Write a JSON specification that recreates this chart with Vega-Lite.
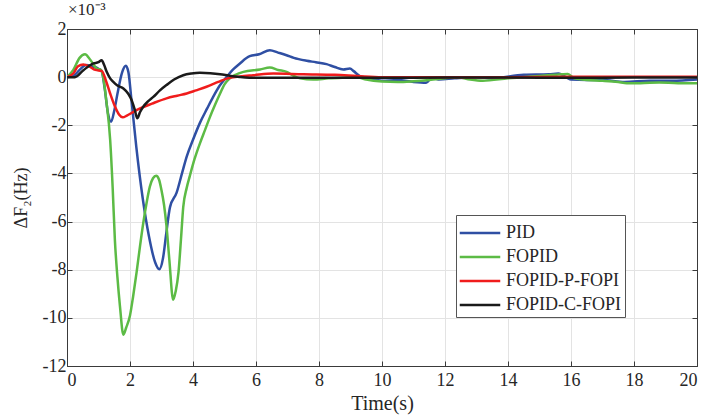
{
  "$schema": "https://vega.github.io/schema/vega-lite/v6.json",
  "width": 630,
  "height": 337,
  "autosize": {"type": "none"},
  "padding": {"left": 67, "top": 29, "right": 10, "bottom": 54},
  "background": "white",
  "title": {"text": "×10⁻³", "anchor": "start", "frame": "group", "offset": 1, "dx": 1, "font": "Liberation Serif, Times New Roman, serif", "fontSize": 17, "fontWeight": "normal", "color": "#262626"},
  "config": {
    "font": "Liberation Serif, Times New Roman, serif",
    "view": {"stroke": "#3a3a3a", "strokeWidth": 1},
    "axis": {"labelFont": "Liberation Serif, Times New Roman, serif", "titleFont": "Liberation Serif, Times New Roman, serif", "labelColor": "#262626", "titleColor": "#262626", "labelFontSize": 18, "titleFontSize": 18, "titleFontWeight": "normal", "domainColor": "#3a3a3a", "tickColor": "#3a3a3a", "gridColor": "#e3e3e3", "tickSize": -5, "labelPadding": 6},
    "legend": {"labelFont": "Liberation Serif, Times New Roman, serif"}
  },
  "datasets": {
    "d": [
      {"t":0,"v":0,"s":"PID"},{"t":0.2,"v":0.05,"s":"PID"},{"t":0.4,"v":0.3,"s":"PID"},{"t":0.6,"v":0.5,"s":"PID"},{"t":0.8,"v":0.45,"s":"PID"},{"t":1.0,"v":0.35,"s":"PID"},{"t":1.1,"v":0.25,"s":"PID"},{"t":1.2,"v":-0.5,"s":"PID"},{"t":1.3,"v":-1.5,"s":"PID"},{"t":1.4,"v":-1.85,"s":"PID"},{"t":1.5,"v":-1.4,"s":"PID"},{"t":1.6,"v":-0.7,"s":"PID"},{"t":1.75,"v":0.2,"s":"PID"},{"t":1.87,"v":0.47,"s":"PID"},{"t":1.95,"v":0.2,"s":"PID"},{"t":2.05,"v":-1.0,"s":"PID"},{"t":2.2,"v":-2.9,"s":"PID"},{"t":2.4,"v":-5.0,"s":"PID"},{"t":2.6,"v":-6.6,"s":"PID"},{"t":2.8,"v":-7.7,"s":"PID"},{"t":2.93,"v":-7.98,"s":"PID"},{"t":3.05,"v":-7.5,"s":"PID"},{"t":3.15,"v":-6.5,"s":"PID"},{"t":3.27,"v":-5.4,"s":"PID"},{"t":3.48,"v":-4.8,"s":"PID"},{"t":3.65,"v":-4.0,"s":"PID"},{"t":3.8,"v":-3.3,"s":"PID"},{"t":4.0,"v":-2.6,"s":"PID"},{"t":4.22,"v":-1.9,"s":"PID"},{"t":4.45,"v":-1.3,"s":"PID"},{"t":4.64,"v":-0.82,"s":"PID"},{"t":4.85,"v":-0.35,"s":"PID"},{"t":5.07,"v":0.01,"s":"PID"},{"t":5.3,"v":0.35,"s":"PID"},{"t":5.49,"v":0.57,"s":"PID"},{"t":5.8,"v":0.87,"s":"PID"},{"t":6.1,"v":0.95,"s":"PID"},{"t":6.44,"v":1.12,"s":"PID"},{"t":6.7,"v":1.02,"s":"PID"},{"t":6.97,"v":0.91,"s":"PID"},{"t":7.2,"v":0.8,"s":"PID"},{"t":7.61,"v":0.68,"s":"PID"},{"t":7.9,"v":0.62,"s":"PID"},{"t":8.24,"v":0.54,"s":"PID"},{"t":8.5,"v":0.42,"s":"PID"},{"t":8.77,"v":0.32,"s":"PID"},{"t":8.98,"v":0.36,"s":"PID"},{"t":9.1,"v":0.25,"s":"PID"},{"t":9.3,"v":0.04,"s":"PID"},{"t":9.6,"v":-0.05,"s":"PID"},{"t":10.0,"v":-0.15,"s":"PID"},{"t":10.5,"v":-0.12,"s":"PID"},{"t":11.0,"v":-0.2,"s":"PID"},{"t":11.4,"v":-0.23,"s":"PID"},{"t":11.6,"v":0.0,"s":"PID"},{"t":11.8,"v":-0.1,"s":"PID"},{"t":12.3,"v":-0.05,"s":"PID"},{"t":13.0,"v":0.0,"s":"PID"},{"t":13.5,"v":-0.05,"s":"PID"},{"t":14.5,"v":0.1,"s":"PID"},{"t":15.3,"v":0.12,"s":"PID"},{"t":15.6,"v":0.15,"s":"PID"},{"t":16.0,"v":-0.1,"s":"PID"},{"t":16.5,"v":-0.12,"s":"PID"},{"t":17.0,"v":-0.12,"s":"PID"},{"t":17.7,"v":-0.2,"s":"PID"},{"t":18.5,"v":-0.15,"s":"PID"},{"t":19.2,"v":-0.15,"s":"PID"},{"t":20.0,"v":-0.1,"s":"PID"},

      {"t":0,"v":0,"s":"FOPID"},{"t":0.2,"v":0.3,"s":"FOPID"},{"t":0.4,"v":0.8,"s":"FOPID"},{"t":0.57,"v":0.95,"s":"FOPID"},{"t":0.75,"v":0.7,"s":"FOPID"},{"t":0.94,"v":0.36,"s":"FOPID"},{"t":1.08,"v":0.3,"s":"FOPID"},{"t":1.15,"v":0.0,"s":"FOPID"},{"t":1.25,"v":-1.0,"s":"FOPID"},{"t":1.37,"v":-2.6,"s":"FOPID"},{"t":1.45,"v":-4.6,"s":"FOPID"},{"t":1.52,"v":-6.76,"s":"FOPID"},{"t":1.6,"v":-8.3,"s":"FOPID"},{"t":1.68,"v":-9.5,"s":"FOPID"},{"t":1.79,"v":-10.7,"s":"FOPID"},{"t":1.88,"v":-10.4,"s":"FOPID"},{"t":2.0,"v":-9.9,"s":"FOPID"},{"t":2.1,"v":-9.1,"s":"FOPID"},{"t":2.21,"v":-8.1,"s":"FOPID"},{"t":2.32,"v":-7.0,"s":"FOPID"},{"t":2.42,"v":-6.07,"s":"FOPID"},{"t":2.53,"v":-5.2,"s":"FOPID"},{"t":2.63,"v":-4.55,"s":"FOPID"},{"t":2.73,"v":-4.2,"s":"FOPID"},{"t":2.83,"v":-4.1,"s":"FOPID"},{"t":2.92,"v":-4.25,"s":"FOPID"},{"t":3.0,"v":-4.7,"s":"FOPID"},{"t":3.08,"v":-5.3,"s":"FOPID"},{"t":3.16,"v":-6.2,"s":"FOPID"},{"t":3.25,"v":-7.6,"s":"FOPID"},{"t":3.37,"v":-9.25,"s":"FOPID"},{"t":3.45,"v":-8.9,"s":"FOPID"},{"t":3.54,"v":-8.1,"s":"FOPID"},{"t":3.62,"v":-6.7,"s":"FOPID"},{"t":3.69,"v":-5.4,"s":"FOPID"},{"t":3.8,"v":-4.6,"s":"FOPID"},{"t":3.9,"v":-4.1,"s":"FOPID"},{"t":4.05,"v":-3.4,"s":"FOPID"},{"t":4.22,"v":-2.75,"s":"FOPID"},{"t":4.38,"v":-2.2,"s":"FOPID"},{"t":4.54,"v":-1.65,"s":"FOPID"},{"t":4.7,"v":-1.15,"s":"FOPID"},{"t":4.86,"v":-0.68,"s":"FOPID"},{"t":5.0,"v":-0.3,"s":"FOPID"},{"t":5.17,"v":-0.05,"s":"FOPID"},{"t":5.35,"v":0.1,"s":"FOPID"},{"t":5.6,"v":0.22,"s":"FOPID"},{"t":6.13,"v":0.32,"s":"FOPID"},{"t":6.44,"v":0.4,"s":"FOPID"},{"t":6.7,"v":0.3,"s":"FOPID"},{"t":6.97,"v":0.22,"s":"FOPID"},{"t":7.2,"v":0.05,"s":"FOPID"},{"t":7.4,"v":-0.05,"s":"FOPID"},{"t":7.82,"v":-0.1,"s":"FOPID"},{"t":8.3,"v":-0.05,"s":"FOPID"},{"t":8.77,"v":-0.02,"s":"FOPID"},{"t":9.2,"v":0.0,"s":"FOPID"},{"t":9.5,"v":-0.1,"s":"FOPID"},{"t":10.0,"v":-0.18,"s":"FOPID"},{"t":10.5,"v":-0.2,"s":"FOPID"},{"t":11.0,"v":-0.17,"s":"FOPID"},{"t":11.5,"v":-0.12,"s":"FOPID"},{"t":12.0,"v":-0.05,"s":"FOPID"},{"t":12.4,"v":0.0,"s":"FOPID"},{"t":12.8,"v":-0.1,"s":"FOPID"},{"t":13.2,"v":-0.15,"s":"FOPID"},{"t":14.0,"v":-0.05,"s":"FOPID"},{"t":15.0,"v":0.05,"s":"FOPID"},{"t":15.5,"v":0.1,"s":"FOPID"},{"t":15.9,"v":0.13,"s":"FOPID"},{"t":16.1,"v":-0.05,"s":"FOPID"},{"t":16.5,"v":-0.12,"s":"FOPID"},{"t":17.0,"v":-0.15,"s":"FOPID"},{"t":17.5,"v":-0.2,"s":"FOPID"},{"t":17.77,"v":-0.25,"s":"FOPID"},{"t":18.2,"v":-0.25,"s":"FOPID"},{"t":18.8,"v":-0.22,"s":"FOPID"},{"t":19.4,"v":-0.25,"s":"FOPID"},{"t":20.0,"v":-0.25,"s":"FOPID"},

      {"t":0,"v":0,"s":"FOPID-P-FOPI"},{"t":0.2,"v":0.15,"s":"FOPID-P-FOPI"},{"t":0.35,"v":0.45,"s":"FOPID-P-FOPI"},{"t":0.52,"v":0.53,"s":"FOPID-P-FOPI"},{"t":0.7,"v":0.45,"s":"FOPID-P-FOPI"},{"t":0.9,"v":0.3,"s":"FOPID-P-FOPI"},{"t":1.1,"v":0.26,"s":"FOPID-P-FOPI"},{"t":1.25,"v":-0.2,"s":"FOPID-P-FOPI"},{"t":1.37,"v":-0.68,"s":"FOPID-P-FOPI"},{"t":1.5,"v":-1.15,"s":"FOPID-P-FOPI"},{"t":1.65,"v":-1.55,"s":"FOPID-P-FOPI"},{"t":1.77,"v":-1.67,"s":"FOPID-P-FOPI"},{"t":1.9,"v":-1.6,"s":"FOPID-P-FOPI"},{"t":2.1,"v":-1.45,"s":"FOPID-P-FOPI"},{"t":2.32,"v":-1.3,"s":"FOPID-P-FOPI"},{"t":2.7,"v":-1.1,"s":"FOPID-P-FOPI"},{"t":3.16,"v":-0.88,"s":"FOPID-P-FOPI"},{"t":3.5,"v":-0.77,"s":"FOPID-P-FOPI"},{"t":3.8,"v":-0.68,"s":"FOPID-P-FOPI"},{"t":4.1,"v":-0.55,"s":"FOPID-P-FOPI"},{"t":4.43,"v":-0.4,"s":"FOPID-P-FOPI"},{"t":4.8,"v":-0.2,"s":"FOPID-P-FOPI"},{"t":5.07,"v":-0.06,"s":"FOPID-P-FOPI"},{"t":5.5,"v":0.03,"s":"FOPID-P-FOPI"},{"t":5.91,"v":0.08,"s":"FOPID-P-FOPI"},{"t":6.55,"v":0.15,"s":"FOPID-P-FOPI"},{"t":7.5,"v":0.12,"s":"FOPID-P-FOPI"},{"t":8.5,"v":0.1,"s":"FOPID-P-FOPI"},{"t":9.2,"v":0.05,"s":"FOPID-P-FOPI"},{"t":10,"v":0.0,"s":"FOPID-P-FOPI"},{"t":12,"v":0.0,"s":"FOPID-P-FOPI"},{"t":14,"v":0.0,"s":"FOPID-P-FOPI"},{"t":16,"v":0.02,"s":"FOPID-P-FOPI"},{"t":18,"v":0.02,"s":"FOPID-P-FOPI"},{"t":20,"v":0.02,"s":"FOPID-P-FOPI"},

      {"t":0,"v":0,"s":"FOPID-C-FOPI"},{"t":0.25,"v":0.0,"s":"FOPID-C-FOPI"},{"t":0.52,"v":0.29,"s":"FOPID-C-FOPI"},{"t":0.84,"v":0.57,"s":"FOPID-C-FOPI"},{"t":1.0,"v":0.62,"s":"FOPID-C-FOPI"},{"t":1.1,"v":0.7,"s":"FOPID-C-FOPI"},{"t":1.18,"v":0.5,"s":"FOPID-C-FOPI"},{"t":1.26,"v":0.22,"s":"FOPID-C-FOPI"},{"t":1.37,"v":-0.05,"s":"FOPID-C-FOPI"},{"t":1.47,"v":-0.2,"s":"FOPID-C-FOPI"},{"t":1.6,"v":-0.35,"s":"FOPID-C-FOPI"},{"t":1.79,"v":-0.47,"s":"FOPID-C-FOPI"},{"t":1.95,"v":-0.7,"s":"FOPID-C-FOPI"},{"t":2.05,"v":-0.95,"s":"FOPID-C-FOPI"},{"t":2.15,"v":-1.35,"s":"FOPID-C-FOPI"},{"t":2.23,"v":-1.71,"s":"FOPID-C-FOPI"},{"t":2.32,"v":-1.45,"s":"FOPID-C-FOPI"},{"t":2.42,"v":-1.23,"s":"FOPID-C-FOPI"},{"t":2.58,"v":-1.0,"s":"FOPID-C-FOPI"},{"t":2.74,"v":-0.82,"s":"FOPID-C-FOPI"},{"t":2.95,"v":-0.55,"s":"FOPID-C-FOPI"},{"t":3.16,"v":-0.33,"s":"FOPID-C-FOPI"},{"t":3.4,"v":-0.1,"s":"FOPID-C-FOPI"},{"t":3.69,"v":0.08,"s":"FOPID-C-FOPI"},{"t":3.95,"v":0.15,"s":"FOPID-C-FOPI"},{"t":4.22,"v":0.18,"s":"FOPID-C-FOPI"},{"t":4.55,"v":0.16,"s":"FOPID-C-FOPI"},{"t":4.86,"v":0.12,"s":"FOPID-C-FOPI"},{"t":5.2,"v":0.05,"s":"FOPID-C-FOPI"},{"t":5.49,"v":0.01,"s":"FOPID-C-FOPI"},{"t":6.0,"v":-0.03,"s":"FOPID-C-FOPI"},{"t":8,"v":-0.03,"s":"FOPID-C-FOPI"},{"t":10,"v":-0.03,"s":"FOPID-C-FOPI"},{"t":12,"v":-0.02,"s":"FOPID-C-FOPI"},{"t":14,"v":-0.02,"s":"FOPID-C-FOPI"},{"t":16,"v":-0.03,"s":"FOPID-C-FOPI"},{"t":18,"v":-0.02,"s":"FOPID-C-FOPI"},{"t":20,"v":-0.02,"s":"FOPID-C-FOPI"}
    ]
  },
  "data": {"name": "d"},
  "layer": [
    {
      "mark": {"type": "line", "strokeWidth": 2.5, "interpolate": "monotone", "clip": true},
      "encoding": {
        "x": {"field": "t", "type": "quantitative", "scale": {"domain": [0, 20], "nice": false},
              "axis": {"title": "Time(s)", "values": [0,2,4,6,8,10,12,14,16,18,20], "labelPadding": 10, "titlePadding": 4, "titleFontSize": 20, "grid": true, "labelExpr": "replace(datum.label, '−', '-')"}},
        "y": {"field": "v", "type": "quantitative", "scale": {"domain": [-12, 2], "nice": false},
              "axis": {"title": "ΔF₂(Hz)", "values": [-12,-10,-8,-6,-4,-2,0,2], "titlePadding": 12, "titleFontSize": 18, "grid": true, "labelExpr": "replace(datum.label, '−', '-')"}},
        "color": {"field": "s", "type": "nominal",
                  "scale": {"domain": ["PID", "FOPID", "FOPID-P-FOPI", "FOPID-C-FOPI"], "range": ["#2f4fa3", "#5cbb45", "#f01c1c", "#1a1a1a"]},
                  "legend": {"title": null, "orient": "none", "legendX": 389, "legendY": 186, "symbolType": "M-1.5,0H1.5", "symbolSize": 729, "symbolStrokeWidth": 2.5, "symbolOffset": 6, "labelFontSize": 18, "labelColor": "#262626", "strokeColor": "#555555", "fillColor": "white", "padding": 3, "rowPadding": 0, "labelOffset": 11, "labelLimit": 300}},
        "order": {"value": 0}
      }
    },
    {
      "mark": {"type": "line", "opacity": 0},
      "encoding": {
        "x": {"field": "t", "type": "quantitative", "scale": {"domain": [0, 20], "nice": false},
              "axis": {"orient": "top", "labels": false, "title": null, "grid": false, "values": [0,2,4,6,8,10,12,14,16,18,20]}},
        "y": {"field": "v", "type": "quantitative", "scale": {"domain": [-12, 2], "nice": false},
              "axis": {"orient": "right", "labels": false, "title": null, "grid": false, "values": [-12,-10,-8,-6,-4,-2,0,2]}},
        "detail": {"field": "s"}
      }
    }
  ],
  "resolve": {"scale": {"x": "independent", "y": "independent"}, "axis": {"x": "independent", "y": "independent"}}
}
